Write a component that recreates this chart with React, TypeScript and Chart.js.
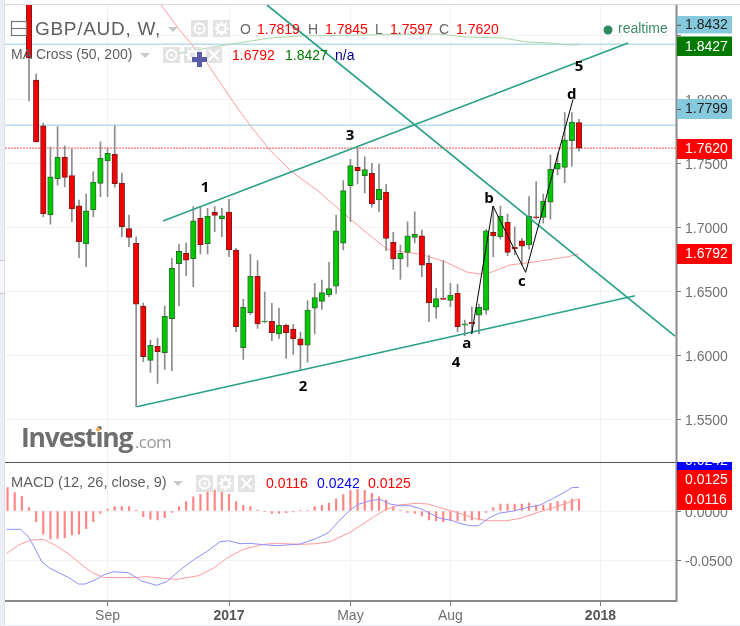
import React, { useEffect, useRef } from "react";
import { Chart, registerables } from "chart.js";

Chart.register(...registerables);

const opens = [1.9, 1.8152, 1.7795, 1.7098, 1.7381, 1.7551, 1.7405, 1.717, 1.6871, 1.7137, 1.7345, 1.752, 1.7572, 1.7345, 1.6991, 1.6877, 1.6387, 1.5962, 1.6072, 1.6022, 1.6287, 1.6717, 1.6798, 1.6756, 1.7072, 1.6873, 1.7121, 1.7069, 1.7121, 1.6824, 1.6061, 1.6334, 1.6619, 1.6262, 1.6267, 1.6168, 1.6236, 1.6207, 1.6131, 1.608, 1.6369, 1.6423, 1.6473, 1.6541, 1.6877, 1.7327, 1.747, 1.7405, 1.7423, 1.7215, 1.7277, 1.6884, 1.6754, 1.6806, 1.6923, 1.6934, 1.672, 1.6377, 1.6447, 1.6431, 1.6486, 1.6238, 1.6259, 1.6316, 1.6355, 1.6962, 1.6928, 1.7041, 1.6845, 1.6895, 1.6863, 1.7084, 1.7078, 1.7197, 1.7455, 1.747, 1.7678, 1.7819];
const highs = [1.91, 1.8199, 1.7816, 1.7629, 1.7788, 1.7637, 1.7613, 1.7215, 1.7262, 1.7436, 1.767, 1.7621, 1.7795, 1.7426, 1.7098, 1.6928, 1.641, 1.6121, 1.6134, 1.6387, 1.6759, 1.6869, 1.6879, 1.7163, 1.7163, 1.715, 1.7163, 1.715, 1.722, 1.6837, 1.6439, 1.6791, 1.6741, 1.6496, 1.6408, 1.6369, 1.6246, 1.6244, 1.6184, 1.6428, 1.6564, 1.659, 1.6728, 1.7098, 1.7366, 1.7533, 1.7631, 1.7553, 1.7502, 1.7496, 1.7338, 1.6962, 1.6863, 1.7045, 1.7123, 1.698, 1.678, 1.6525, 1.6741, 1.6564, 1.6556, 1.6277, 1.6381, 1.6402, 1.6986, 1.7163, 1.7168, 1.7105, 1.7006, 1.6916, 1.7241, 1.7358, 1.7262, 1.7566, 1.7582, 1.7897, 1.7897, 1.7845];
const lows = [1.7988, 1.7668, 1.7084, 1.7027, 1.7332, 1.7319, 1.7045, 1.6764, 1.6694, 1.7084, 1.7241, 1.7241, 1.7316, 1.6928, 1.685, 1.56, 1.5952, 1.5869, 1.5783, 1.5892, 1.5881, 1.6387, 1.6623, 1.6537, 1.6793, 1.6793, 1.6967, 1.6928, 1.6772, 1.6186, 1.597, 1.6322, 1.6212, 1.6254, 1.6116, 1.6134, 1.5978, 1.6009, 1.5892, 1.5949, 1.6168, 1.6361, 1.6459, 1.6486, 1.6824, 1.7045, 1.734, 1.727, 1.7158, 1.7123, 1.6819, 1.6673, 1.6595, 1.6694, 1.6879, 1.6616, 1.6264, 1.6291, 1.6437, 1.6381, 1.6186, 1.6155, 1.6173, 1.6168, 1.6324, 1.6772, 1.6908, 1.678, 1.6785, 1.6707, 1.683, 1.7066, 1.7033, 1.7066, 1.741, 1.735, 1.748, 1.7597];
const closes = [1.8324, 1.7668, 1.7108, 1.7395, 1.7551, 1.7392, 1.7145, 1.6889, 1.7131, 1.7355, 1.7541, 1.758, 1.7342, 1.7006, 1.6923, 1.6402, 1.5991, 1.608, 1.603, 1.6306, 1.6681, 1.6814, 1.6744, 1.7053, 1.6863, 1.709, 1.7095, 1.7092, 1.6824, 1.6225, 1.6377, 1.6619, 1.6246, 1.627, 1.6178, 1.6236, 1.6178, 1.6131, 1.608, 1.6355, 1.6452, 1.6491, 1.6522, 1.6975, 1.7288, 1.7483, 1.7444, 1.7452, 1.7184, 1.7298, 1.6914, 1.6754, 1.6798, 1.6934, 1.6947, 1.6705, 1.6412, 1.6444, 1.6439, 1.6473, 1.6225, 1.6248, 1.6248, 1.6377, 1.6975, 1.6934, 1.709, 1.6806, 1.6832, 1.6855, 1.709, 1.7077, 1.7207, 1.7455, 1.7502, 1.7684, 1.7824, 1.762];

const ma50Weeks = [17.5, 18.5, 21.1, 24.9, 28.1, 30.7, 33.7, 36.8, 40.3, 43.5, 47.3, 50.1, 52.4, 54.7, 58, 61.3, 63.1, 64.8, 67.3, 70.6, 75.3, 77];
const ma50Values = [1.8938, 1.8738, 1.8543, 1.8285, 1.802, 1.7816, 1.7605, 1.7434, 1.7293, 1.7137, 1.6957, 1.6832, 1.6809, 1.6793, 1.6738, 1.6652, 1.6637, 1.6652, 1.6707, 1.673, 1.677, 1.6792];
const ma200Weeks = [19.7, 22.1, 25.8, 33.7, 37.9, 47.3, 57.1, 61.3, 66.4, 69.7, 72.9, 75.3, 77];
const ma200Values = [1.8348, 1.8371, 1.841, 1.848, 1.8496, 1.8504, 1.8512, 1.8488, 1.848, 1.8449, 1.8441, 1.8426, 1.8427];

const histWeeks = [-3, -2, -1, ...opens.map((_, i) => i)];
const histValues = [0.0238, 0.0187, 0.015, 0.0034, -0.0109, -0.0235, -0.0286, -0.0279, -0.0272, -0.0245, -0.0235, -0.018, -0.0109, -0.0024, 0.002, 0.0044, 0.0044, 0.0044, 0.001, -0.0058, -0.0082, -0.0092, -0.0068, -0.0014, 0.0044, 0.0095, 0.0146, 0.017, 0.0207, 0.0214, 0.0197, 0.017, 0.0095, 0.0058, 0.0044, 0.001, -0.0007, -0.0024, -0.0024, -0.0017, -0.001, 0.0003, 0.0007, 0.0044, 0.0058, 0.0082, 0.0122, 0.0167, 0.0211, 0.0221, 0.0211, 0.018, 0.0146, 0.0112, 0.0044, 0.001, -0.0014, -0.0024, -0.0051, -0.0092, -0.0099, -0.0109, -0.0099, -0.0099, -0.0099, -0.0092, -0.0092, -0.0014, 0.0034, 0.0071, 0.0071, 0.0071, 0.0071, 0.0082, 0.0061, 0.0061, 0.0078, 0.0095, 0.0105, 0.0122, 0.0116];
const macdWeeks = [-3.13, -1.17, -0.09, 0.84, 1.77, 2.94, 4.34, 5.74, 6.91, 7.84, 9.24, 10.41, 11.81, 13.91, 15.77, 17.87, 19.27, 21.14, 23, 24.87, 26.74, 27.9, 29.54, 30.94, 32.8, 34.67, 37.94, 40.27, 41.9, 43.54, 44.94, 46.1, 47.74, 49.14, 50.54, 51.94, 53.34, 54.74, 56.14, 57.54, 58.94, 60.34, 61.74, 62.91, 64.31, 65.71, 67.81, 69.67, 71.54, 73.4, 75.27, 75.97, 77];
const macdValues = [-0.0187, -0.0187, -0.0262, -0.0381, -0.0517, -0.0585, -0.0636, -0.0687, -0.0745, -0.0745, -0.0704, -0.0653, -0.0619, -0.0629, -0.0714, -0.0758, -0.0721, -0.0602, -0.05, -0.0415, -0.0313, -0.0303, -0.0333, -0.033, -0.0343, -0.0354, -0.0337, -0.0279, -0.0221, -0.0092, 0.001, 0.0068, 0.0105, 0.0119, 0.0071, 0.0054, 0.0054, 0.0027, -0.0024, -0.0075, -0.0092, -0.0126, -0.015, -0.015, -0.0075, -0.0024, 0, 0.0034, 0.0061, 0.0129, 0.0204, 0.0238, 0.0242];
const signalWeeks = [-3.13, -1.26, 0.37, 2.01, 3.64, 5.74, 7.14, 8.77, 10.41, 12.27, 14.61, 16.47, 18.81, 20.67, 23.71, 25.8, 27.67, 30, 32.8, 34.67, 37.94, 40.27, 42.14, 44.94, 47.74, 49.61, 51.71, 54.27, 55.9, 57.54, 59.87, 62.67, 64.31, 66.87, 68.74, 71.54, 73.4, 77];
const signalValues = [-0.0432, -0.034, -0.0296, -0.0289, -0.0347, -0.0449, -0.0534, -0.0626, -0.0677, -0.068, -0.068, -0.067, -0.0687, -0.0697, -0.066, -0.0585, -0.0483, -0.0391, -0.034, -0.033, -0.034, -0.0333, -0.0313, -0.0218, -0.0085, 0.0003, 0.0061, 0.0078, 0.0071, 0.0034, -0.0014, -0.0082, -0.0099, -0.0099, -0.0075, -0.0007, 0.0034, 0.0125];

const trendUpper = [[18.76, 1.7051], [83.86, 1.8441]];
const trendDown = [[33.32, 1.8738], [90.44, 1.6152]];
const trendLower = [[15.08, 1.56], [84.84, 1.6467]];
const waveLine = [[61.97, 1.6168], [64.96, 1.7168], [69.53, 1.665], [76.16, 1.8001]];

const waveLabels = ["1", "2", "3", "4", "5", "a", "b", "c", "d"];
const waveWeeks = [24.64, 38.36, 44.94, 59.78, 77, 61.3, 64.4, 69, 76];
const wavePrices = [1.7309, 1.5754, 1.7715, 1.5941, 1.8254, 1.609, 1.7223, 1.6574, 1.8035];

const priceTicks = [1.55, 1.6, 1.65, 1.7, 1.75, 1.8, 1.85];
const macdTicks = [-0.05, 0];
const timeTickWeeks = [11, 28, 45, 59, 80];
const timeTickLabels = ["Sep", "2017", "May", "Aug", "2018"];

const LEVEL_BLUE_A = 1.8432;
const LEVEL_BLUE_B = 1.7799;
const LEVEL_CLOSE = 1.762;

const X_MIN = -3.36;
const X_MAX = 90.58;
const FONT = '"Liberation Sans", Arial, sans-serif';

const pts = (xs: number[], ys: number[]) => xs.map((x, i) => ({ x, y: ys[i] }));
const pairs = (p: number[][]) => p.map(([x, y]) => ({ x, y }));

const lineDs = (data: any[], color: string, width: number, order: number, yAxisID = "y", dash?: number[]) => ({
  type: "line" as const,
  data,
  yAxisID,
  borderColor: color,
  borderWidth: width,
  borderDash: dash,
  pointRadius: 0,
  tension: 0,
  fill: false,
  order,
});

function drawText(ctx: CanvasRenderingContext2D, s: string, x: number, y: number, color: string, font: string, align: CanvasTextAlign = "left", spacing = "0px") {
  ctx.save();
  ctx.font = font;
  ctx.fillStyle = color;
  ctx.textAlign = align;
  ctx.textBaseline = "middle";
  (ctx as any).letterSpacing = spacing;
  ctx.fillText(s, x, y);
  ctx.restore();
}

function triangle(ctx: CanvasRenderingContext2D, cx: number, cy: number) {
  ctx.fillStyle = "#c9c9c9";
  ctx.beginPath();
  ctx.moveTo(cx - 5, cy - 2);
  ctx.lineTo(cx + 5, cy - 2);
  ctx.lineTo(cx, cy + 3);
  ctx.closePath();
  ctx.fill();
}

function iconBox(ctx: CanvasRenderingContext2D, x: number, y: number, w: number, h: number, kind: "eye" | "gear" | "x") {
  ctx.save();
  ctx.fillStyle = "rgba(222,222,222,0.85)";
  ctx.fillRect(x, y, w, h);
  const cx = x + w / 2;
  const cy = y + h / 2;
  ctx.strokeStyle = "#ffffff";
  ctx.fillStyle = "#ffffff";
  ctx.lineWidth = 2;
  if (kind === "eye") {
    ctx.beginPath();
    ctx.arc(cx, cy, 5, 0, Math.PI * 2);
    ctx.stroke();
    ctx.beginPath();
    ctx.arc(cx, cy, 1.5, 0, Math.PI * 2);
    ctx.fill();
  } else if (kind === "gear") {
    ctx.lineWidth = 2.5;
    ctx.beginPath();
    ctx.arc(cx, cy, 4, 0, Math.PI * 2);
    ctx.stroke();
    ctx.lineWidth = 2;
    for (let k = 0; k < 8; k++) {
      const a = (k * Math.PI) / 4;
      ctx.beginPath();
      ctx.moveTo(cx + Math.cos(a) * 4, cy + Math.sin(a) * 4);
      ctx.lineTo(cx + Math.cos(a) * 7, cy + Math.sin(a) * 7);
      ctx.stroke();
    }
  } else {
    ctx.beginPath();
    ctx.moveTo(cx - 5, cy - 5);
    ctx.lineTo(cx + 5, cy + 5);
    ctx.moveTo(cx + 5, cy - 5);
    ctx.lineTo(cx - 5, cy + 5);
    ctx.stroke();
  }
  ctx.restore();
}

function tag(ctx: CanvasRenderingContext2D, top: number, bottom: number, bg: string, fg: string, text: string, tick = false) {
  ctx.fillStyle = bg;
  ctx.fillRect(677, top, 55, bottom - top);
  if (tick) {
    ctx.fillStyle = "#555";
    ctx.fillRect(677, (top + bottom) / 2, 4, 1);
  }
  drawText(ctx, text, 685, (top + bottom) / 2 + 0.5, fg, `14px ${FONT}`);
}

const noPadding = (s: any) => {
  s.paddingTop = 0;
  s.paddingBottom = 0;
  s.paddingLeft = 0;
  s.paddingRight = 0;
};

const framePlugin = {
  id: "frame",
  beforeDraw(chart: any) {
    const { ctx, scales, chartArea } = chart;
    [scales.y, scales.yM].forEach((s: any) => {
      s.getLabelItems(chartArea).forEach((item: any) => {
        if (item.options && !item.options.nudged) {
          item.options.translation = [item.options.translation[0], item.options.translation[1] + 2];
          item.options.nudged = true;
        }
      });
    });
    ctx.save();
    ctx.fillStyle = "#ffffff";
    ctx.fillRect(0, 0, 740, 626);
    ctx.fillStyle = "#eceef5";
    ctx.fillRect(0, 0, 4, 626);
    ctx.fillRect(0, 625, 740, 1);
    ctx.fillStyle = "#d5d7dc";
    ctx.fillRect(4, 4, 736, 1);
    ctx.fillStyle = "#dfe1e6";
    ctx.fillRect(4, 0, 1, 626);
    ctx.fillStyle = "#f7f7f9";
    ctx.fillRect(0, 260, 4, 33);
    ctx.fillStyle = "#c9cbd0";
    ctx.fillRect(0, 260, 5, 1);
    ctx.fillRect(0, 293, 5, 1);
    ctx.restore();
  },
};

const overlayPlugin = {
  id: "overlay",
  afterDatasetsDraw(chart: any) {
    const { ctx, scales } = chart;
    ctx.save();

    // pane borders
    ctx.fillStyle = "#555555";
    ctx.fillRect(5, 462, 671, 1);
    ctx.fillStyle = "#8a8a8a";
    ctx.fillRect(5, 600, 672, 2);
    ctx.fillRect(675.5, 5, 2, 597);

    // wave labels
    waveLabels.forEach((s, i) => {
      drawText(ctx, s, scales.x.getPixelForValue(waveWeeks[i]), scales.y.getPixelForValue(wavePrices[i]), "#000000", `bold 15px "Open Sans", ${FONT}`, "center");
    });

    // watermark
    drawText(ctx, "Investing", 21, 439, "#6f6f6f", `bold 26.5px "Open Sans", ${FONT}`, "left", "-1.2px");
    drawText(ctx, ".com", 135, 443, "#9a9a9a", `17px "Open Sans", ${FONT}`, "left", "-0.6px");
    ctx.fillStyle = "#f5b04c";
    ctx.beginPath();
    ctx.arc(98, 429.5, 2, 0, Math.PI * 2);
    ctx.fill();

    // header row 1
    ctx.strokeStyle = "#777777";
    ctx.lineWidth = 1.2;
    ctx.strokeRect(11.5, 21.5, 15, 14);
    ctx.beginPath();
    ctx.moveTo(11.5, 28.5);
    ctx.lineTo(26.5, 28.5);
    ctx.stroke();
    drawText(ctx, "GBP/AUD, W,", 35, 29.5, "#5f5f5f", `19px ${FONT}`, "left", "0.7px");
    triangle(ctx, 173, 29);
    iconBox(ctx, 191, 20, 17, 17, "eye");
    iconBox(ctx, 213, 20, 17, 17, "gear");
    const ohlc = `14px ${FONT}`;
    drawText(ctx, "O", 240, 30, "#666666", ohlc);
    drawText(ctx, "1.7819", 257, 30, "#ff0000", ohlc);
    drawText(ctx, "H", 308, 30, "#666666", ohlc);
    drawText(ctx, "1.7845", 325, 30, "#ff0000", ohlc);
    drawText(ctx, "L", 375, 30, "#666666", ohlc);
    drawText(ctx, "1.7597", 390, 30, "#ff0000", ohlc);
    drawText(ctx, "C", 439, 30, "#666666", ohlc);
    drawText(ctx, "1.7620", 456, 30, "#ff0000", ohlc);

    // realtime
    ctx.fillStyle = "#2f8a5f";
    ctx.beginPath();
    ctx.arc(608, 30, 4.5, 0, Math.PI * 2);
    ctx.fill();
    drawText(ctx, "realtime", 618, 29, "#3c8a68", `14px ${FONT}`);

    // header row 2
    drawText(ctx, "MA Cross (50, 200)", 11, 55, "#5f5f5f", `14px ${FONT}`);
    triangle(ctx, 145, 55);
    iconBox(ctx, 163, 47, 17, 16, "eye");
    iconBox(ctx, 184, 47, 17, 16, "gear");
    iconBox(ctx, 206, 47, 16, 16, "x");
    drawText(ctx, "1.6792", 232, 56, "#ff0000", ohlc);
    drawText(ctx, "1.8427", 285, 56, "#007a00", ohlc);
    drawText(ctx, "n/a", 335, 56, "#000080", ohlc);

    // cursor
    ctx.fillStyle = "#5b5ba8";
    ctx.fillRect(192, 57, 15, 5);
    ctx.fillRect(197, 52, 5, 15);

    // MACD header
    drawText(ctx, "MACD (12, 26, close, 9)", 11, 483, "#5f5f5f", `14.6px ${FONT}`);
    triangle(ctx, 178, 483);
    iconBox(ctx, 196, 475, 17, 17, "eye");
    iconBox(ctx, 217, 475, 17, 17, "gear");
    iconBox(ctx, 238, 475, 17, 17, "x");
    drawText(ctx, "0.0116", 266, 484, "#ff0000", ohlc);
    drawText(ctx, "0.0242", 317, 484, "#0000ff", ohlc);
    drawText(ctx, "0.0125", 368, 484, "#ff0000", ohlc);

    // price tags
    tag(ctx, 16, 33.5, "#86c9dc", "#222222", "1.8432", true);
    tag(ctx, 36.5, 56, "#007a00", "#ffffff", "1.8427");
    tag(ctx, 99, 119, "#86c9dc", "#222222", "1.7799", true);
    tag(ctx, 139, 159, "#ff0000", "#ffffff", "1.7620");
    tag(ctx, 244, 264, "#ff0000", "#ffffff", "1.6792");
    ctx.save();
    ctx.beginPath();
    ctx.rect(677, 462, 55, 60);
    ctx.clip();
    tag(ctx, 452, 470, "#0000ff", "#ffffff", "0.0242");
    ctx.restore();
    tag(ctx, 470, 490, "#ff0000", "#ffffff", "0.0125");
    tag(ctx, 490, 510, "#ff0000", "#ffffff", "0.0116");
    ctx.restore();
  },
};

export default function App() {
  const ref = useRef<HTMLCanvasElement>(null);

  useEffect(() => {
    if (!ref.current) return;
    const weeks = opens.map((_, i) => i);
    const up = opens.map((o, i) => closes[i] >= o);
    const chart = new Chart(ref.current, {
      data: {
        datasets: [
          lineDs(pairs(trendUpper), "#2aa188", 1.7, 2),
          lineDs(pairs(trendDown), "#2aa188", 1.7, 2),
          lineDs(pairs(trendLower), "#2aa188", 1.7, 2),
          lineDs(pairs(waveLine), "#000000", 1, 1),
          {
            type: "bar" as const,
            data: weeks.map((x, i) => ({ x, y: [Math.min(opens[i], closes[i]), Math.max(opens[i], closes[i])] })),
            yAxisID: "y",
            grouped: false,
            barThickness: 5.5,
            backgroundColor: up.map((u) => (u ? "#00c800" : "#f50000")),
            borderColor: up.map((u) => (u ? "#2f6b2f" : "#7a1c1c")),
            borderWidth: 1,
            borderSkipped: false,
            order: 5,
          },
          {
            type: "bar" as const,
            data: weeks.map((x, i) => ({ x, y: [lows[i], highs[i]] })),
            yAxisID: "y",
            grouped: false,
            barThickness: 1,
            backgroundColor: "#8c8c8c",
            borderWidth: 0,
            order: 6,
          },
          lineDs(pts(ma50Weeks, ma50Values), "#ff9a9a", 1, 7),
          lineDs(pts(ma200Weeks, ma200Values), "#a9d6a9", 1, 7),
          lineDs([{ x: X_MIN, y: LEVEL_BLUE_A }, { x: X_MAX, y: LEVEL_BLUE_A }], "#b5dde8", 1.5, 8),
          lineDs([{ x: X_MIN, y: LEVEL_BLUE_B }, { x: X_MAX, y: LEVEL_BLUE_B }], "#b5dde8", 1.5, 8),
          lineDs([{ x: X_MIN, y: LEVEL_CLOSE }, { x: X_MAX, y: LEVEL_CLOSE }], "#ff5050", 1, 8, "y", [2, 1]),
          {
            type: "bar" as const,
            data: pts(histWeeks, histValues),
            yAxisID: "yM",
            grouped: false,
            barThickness: 1.5,
            backgroundColor: "#ff8585",
            borderWidth: 0,
            order: 9,
          },
          lineDs(pts(macdWeeks, macdValues), "#8f8fff", 1, 3, "yM"),
          lineDs(pts(signalWeeks, signalValues), "#ff9a9a", 1, 3, "yM"),
        ] as any,
      },
      options: {
        animation: false,
        responsive: false,
        layout: { autoPadding: false, padding: { left: 5, top: 5, right: 0, bottom: 0 } },
        plugins: { legend: { display: false }, tooltip: { enabled: false } },
        scales: {
          x: {
            type: "linear",
            offset: false,
            min: X_MIN,
            max: X_MAX,
            afterFit: (s: any) => { s.height = 25; noPadding(s); },
            afterBuildTicks: (s: any) => { s.ticks = timeTickWeeks.map((value) => ({ value })); },
            grid: { offset: false, color: "#f3f3f3", tickColor: "#777777", tickLength: 5, drawTicks: true },
            border: { display: false },
            ticks: {
              autoSkip: false,
              maxRotation: 0,
              padding: 2,
              color: (c: any) => (String(timeTickLabels[timeTickWeeks.indexOf(c.tick?.value)]).startsWith("20") ? "#555555" : "#707070"),
              font: (c: any) => ({
                family: FONT,
                size: 14,
                weight: String(timeTickLabels[timeTickWeeks.indexOf(c.tick?.value)]).startsWith("20") ? "bold" : "normal",
              }),
              callback: (v: any) => timeTickLabels[timeTickWeeks.indexOf(Number(v))] ?? "",
            },
          },
          y: {
            type: "linear",
            position: "right",
            stack: "panes",
            stackWeight: 457.3,
            min: 1.5166,
            max: 1.8738,
            afterFit: (s: any) => { s.width = 64; noPadding(s); },
            afterBuildTicks: (s: any) => { s.ticks = priceTicks.map((value) => ({ value })); },
            grid: { color: "#f3f3f3", tickColor: "#777777", tickLength: 5 },
            border: { display: false },
            ticks: {
              padding: 4,
              color: "#707070",
              font: { family: FONT, size: 14 },
              callback: (v: any) => (Number(v) > 1.81 ? "" : Number(v).toFixed(4)),
            },
          },
          yM: {
            type: "linear",
            position: "right",
            stack: "panes",
            stackWeight: 138.7,
            min: -0.0918,
            max: 0.0497,
            afterFit: (s: any) => { s.width = 64; noPadding(s); },
            afterBuildTicks: (s: any) => { s.ticks = macdTicks.map((value) => ({ value })); },
            grid: { color: "#f3f3f3", tickColor: "#777777", tickLength: 5 },
            border: { display: false },
            ticks: {
              padding: 4,
              color: "#707070",
              font: { family: FONT, size: 14 },
              callback: (v: any) => Number(v).toFixed(4),
            },
          },
        },
      } as any,
      plugins: [framePlugin, overlayPlugin],
    });
    return () => chart.destroy();
  }, []);

  return (
    <div style={{ position: "absolute", left: 0, top: 0, width: 740, height: 626, background: "#fff" }}>
      <canvas ref={ref} width={740} height={626} style={{ display: "block" }} />
    </div>
  );
}
